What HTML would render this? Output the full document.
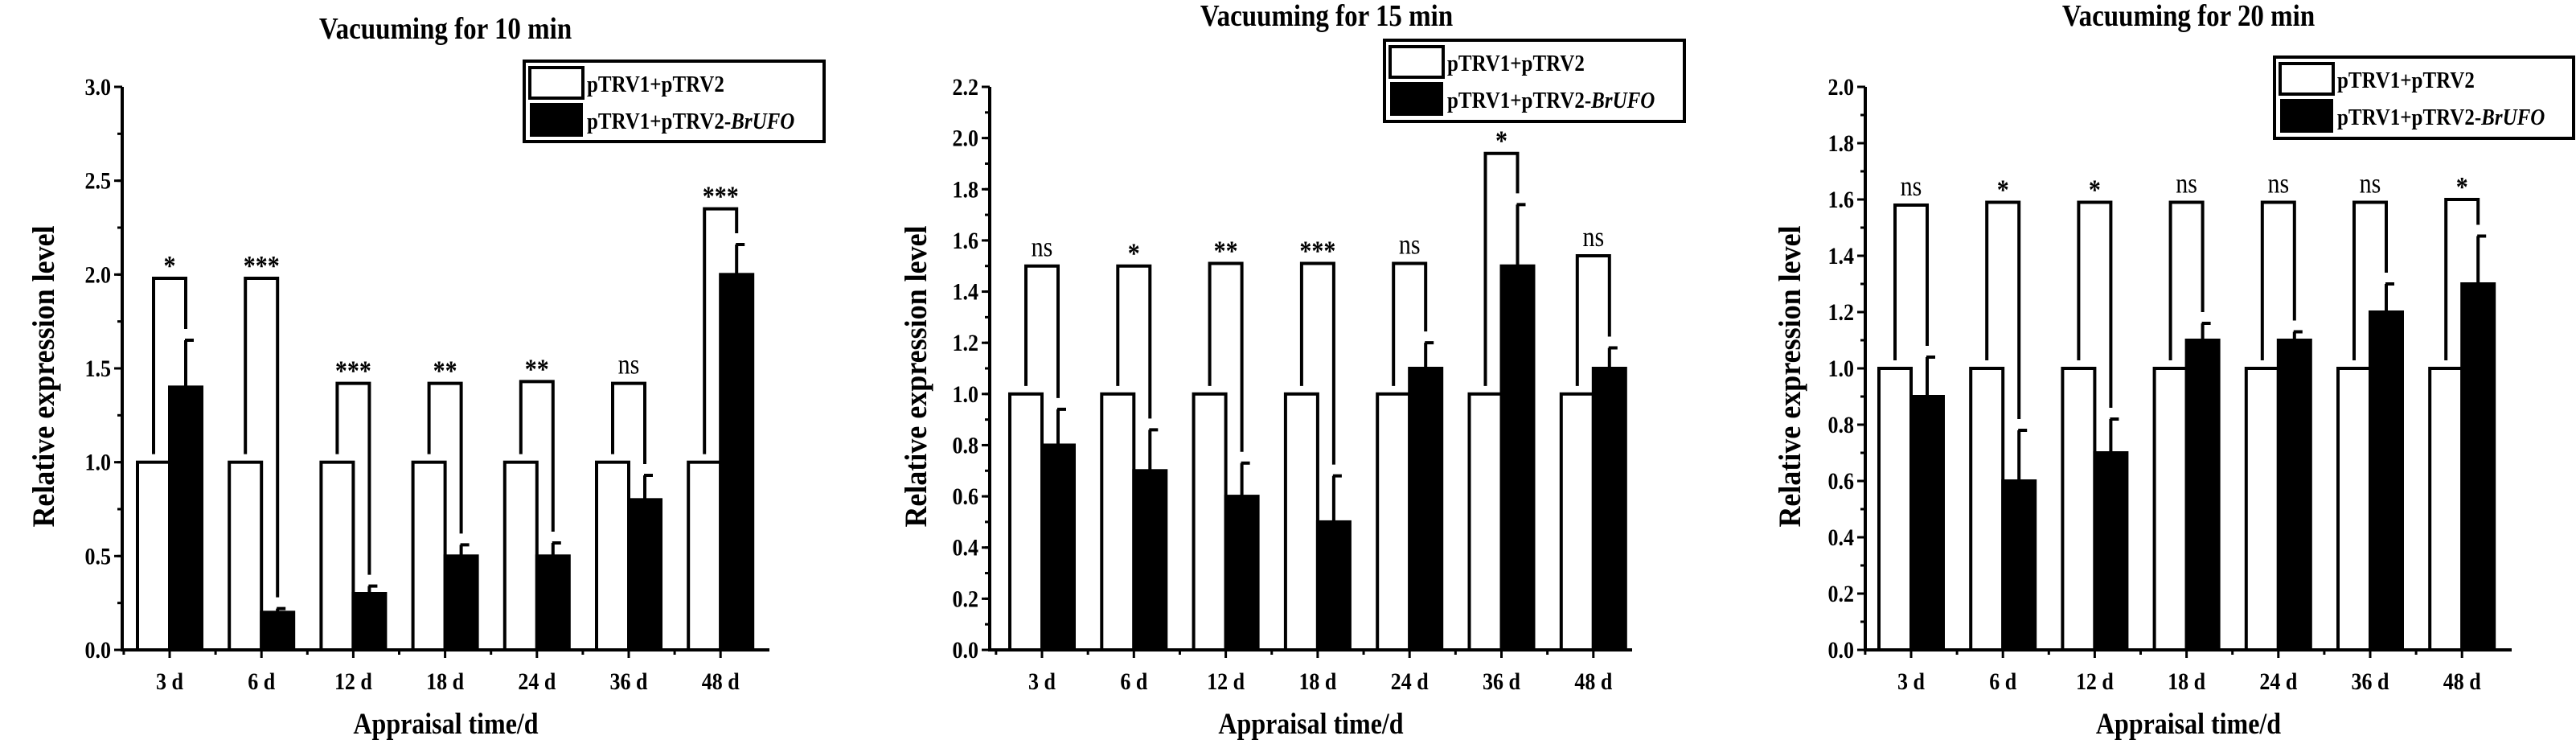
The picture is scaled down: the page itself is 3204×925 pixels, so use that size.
<!DOCTYPE html>
<html><head><meta charset="utf-8"><style>
html,body{margin:0;padding:0;background:#fff;}
svg{display:block;font-family:"Liberation Serif",serif;font-weight:bold;}
</style></head><body>
<svg id="chart" width="3204" height="925" viewBox="0 0 3204 925" xmlns="http://www.w3.org/2000/svg"></svg>
<script>
const categories = ["3 d","6 d","12 d","18 d","24 d","36 d","48 d"];
const titles = ["Vacuuming for 10 min","Vacuuming for 15 min","Vacuuming for 20 min"];
const controlValues = [1,1,1,1,1,1,1];
const brufo10 = [1.4,0.2,0.3,0.5,0.5,0.8,2.0];
const err10 = [0.25,0.02,0.04,0.06,0.07,0.13,0.16];
const brk10 = [1.98,1.98,1.42,1.42,1.43,1.42,2.35];
const sig10 = ["*","***","***","**","**","ns","***"];
const brufo15 = [0.8,0.7,0.6,0.5,1.1,1.5,1.1];
const err15 = [0.14,0.16,0.13,0.18,0.10,0.24,0.08];
const brk15 = [1.5,1.5,1.51,1.51,1.51,1.94,1.54];
const sig15 = ["ns","*","**","***","ns","*","ns"];
const brufo20 = [0.9,0.6,0.7,1.1,1.1,1.2,1.3];
const err20 = [0.14,0.18,0.12,0.06,0.03,0.10,0.17];
const brk20 = [1.58,1.59,1.59,1.59,1.59,1.59,1.6];
const sig20 = ["ns","*","*","ns","ns","ns","*"];
const yTicks10 = [0,0.5,1.0,1.5,2.0,2.5,3.0];
const yTicks15 = [0,0.2,0.4,0.6,0.8,1.0,1.2,1.4,1.6,1.8,2.0,2.2];
const yTicks20 = [0,0.2,0.4,0.6,0.8,1.0,1.2,1.4,1.6,1.8,2.0];

const NS="http://www.w3.org/2000/svg";
const svg=document.getElementById('chart');
function mk(tag,attrs,parent,text){const e=document.createElementNS(NS,tag);for(const k in attrs)e.setAttribute(k,attrs[k]);if(text!==undefined)e.textContent=text;(parent||svg).appendChild(e);return e;}
function tx(x,y,size,str,parent,anchor,extra){
 const e=mk('text',Object.assign({x:0,y:0,transform:`translate(${x},${y}) scale(1,1.15)`,'text-anchor':anchor||'middle','font-size':size},extra||{}),parent,str);
 return e;
}

const panels=[
 {ax:152,xr:957,first:211,step:114.2,ymax:3.0,ticks:yTicks10,minor:0.25,vals:brufo10,err:err10,brk:brk10,sig:sig10,tx:554,ty:48,lg:[652,76,373,100],ytx:58},
 {ax:1231,xr:2030,first:1296,step:114.3,ymax:2.2,ticks:yTicks15,minor:0.1,vals:brufo15,err:err15,brk:brk15,sig:sig15,tx:1650,ty:32,lg:[1722,50,373,101],ytx:1143},
 {ax:2320,xr:3124,first:2377,step:114.2,ymax:2.0,ticks:yTicks20,minor:0.1,vals:brufo20,err:err20,brk:brk20,sig:sig20,tx:2722,ty:32,lg:[2829,71,372,101],ytx:2230}
];
const y0=808, ytop=108, bw=40;

panels.forEach((p,pi)=>{
 const g=mk('g',{});
 
 
 const ys=v=>y0-(v/p.ymax)*(y0-ytop);
 const xs=i=>p.first+i*p.step;
 const t=tx(p.tx,p.ty,33,titles[pi],g);
 
 
 categories.forEach((c,i)=>{
  const cx=xs(i);
  const wb=mk('rect',{x:cx-bw,y:ys(controlValues[i]),width:bw,height:y0-ys(controlValues[i]),fill:'#fff',stroke:'#000','stroke-width':4},g);
  
  
  const bb=mk('rect',{x:cx,y:ys(p.vals[i]),width:bw,height:y0-ys(p.vals[i]),fill:'#000',stroke:'#000','stroke-width':4},g);
  
  
  const ex=cx+bw/2, et=ys(p.vals[i]+p.err[i]);
  const el=mk('path',{d:`M${ex} ${ys(p.vals[i])}V${et}M${ex-1} ${et}H${ex+10}`,stroke:'#000','stroke-width':4,fill:'none'},g);
  
  
  const lx=cx-bw/2, rx=cx+bw/2, by=ys(p.brk[i]);
  const lb=ys(1)-10, rb=ys(p.vals[i]+p.err[i])-14;
  const br=mk('path',{d:`M${lx} ${lb}V${by}H${rx}V${rb}`,stroke:'#000','stroke-width':4,fill:'none'},g);
  
  
  const isNs=p.sig[i]==='ns';
  const st=tx(cx,by-(isNs?12:4),30,p.sig[i],g,'middle',{'font-weight':isNs?'normal':'bold'});
  
  
  const xl=tx(cx,857,26,c,g);
  
  
  mk('line',{x1:cx,y1:y0,x2:cx,y2:y0+10,stroke:'#000','stroke-width':3},g);
  mk('line',{x1:cx-p.step/2,y1:y0,x2:cx-p.step/2,y2:y0+6,stroke:'#000','stroke-width':3},g);
 });
 const ax=mk('path',{d:`M${p.ax} ${ytop}V${y0}H${p.xr}`,stroke:'#000','stroke-width':4,fill:'none'},g);
 
 
 for(let v=0;v<=p.ymax+1e-6;v+=p.minor){mk('line',{x1:p.ax-6,y1:ys(v),x2:p.ax,y2:ys(v),stroke:'#000','stroke-width':3},g);}
 p.ticks.forEach(v=>{
  mk('line',{x1:p.ax-10,y1:ys(v),x2:p.ax,y2:ys(v),stroke:'#000','stroke-width':3},g);
  const tl=tx(p.ax-14,ys(v)+10,26,v.toFixed(1),g,'end');
  
  
 });
 const yt=mk('text',{x:0,y:0,transform:`translate(${p.ytx},${(y0+ytop)/2+10}) rotate(-90) scale(1,1.1)`,'text-anchor':'middle','dominant-baseline':'middle','font-size':36},g,'Relative expression level');
 
 
 const xt=tx((p.ax+p.xr)/2,912,32,'Appraisal time/d',g);
 
 
 const [lx,ly,lw,lh]=p.lg;
 const lgG=mk('g',{},g);
 
 
 mk('rect',{x:lx,y:ly,width:lw,height:lh,fill:'#fff',stroke:'#000','stroke-width':4},lgG);
 mk('rect',{x:lx+7,y:ly+8,width:66,height:38,fill:'#fff',stroke:'#000','stroke-width':4},lgG);
 mk('rect',{x:lx+7,y:ly+52,width:66,height:42,fill:'#000'},lgG);
 const e1=tx(lx+78,ly+38,25,'pTRV1+pTRV2',lgG,'start');
 
 
 const e2=tx(lx+78,ly+84,25,undefined,lgG,'start');
 
 
 mk('tspan',{},e2,'pTRV1+pTRV2-');
 mk('tspan',{'font-style':'italic'},e2,'BrUFO');
});
</script>
</body></html>
